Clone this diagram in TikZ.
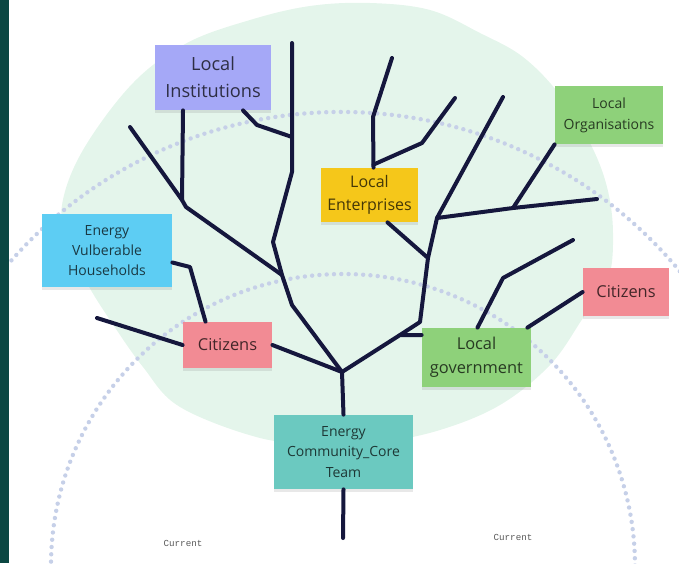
\documentclass[tikz,border=0pt]{standalone}
\usepackage{fontspec}
\setmainfont{Open Sans}
\setmonofont{Liberation Mono}
\usetikzlibrary{shadows}

\definecolor{stripgreen}{HTML}{0B4742}
\definecolor{blobgreen}{HTML}{E4F5EB}
\definecolor{dotblue}{HTML}{C6D0E8}
\definecolor{branchnavy}{HTML}{15173D}
\definecolor{instpurple}{HTML}{A5A8F7}
\definecolor{entyellow}{HTML}{F5C71A}
\definecolor{orggreen}{HTML}{8ED17A}
\definecolor{evhblue}{HTML}{5DCDF3}
\definecolor{citpink}{HTML}{F28B94}
\definecolor{coreteal}{HTML}{6BC9C0}

\tikzset{
  sticky/.style={rectangle, inner sep=0pt, align=center, text=black, text opacity=0.72,
    drop shadow={shadow xshift=0pt, shadow yshift=-1.5pt, opacity=0.18}},
  branch/.style={draw=branchnavy, line width=2pt, line join=round, line cap=round},
  ring/.style={draw=dotblue, line width=2.2pt, line cap=round, dash pattern=on 0pt off 3.65pt}
}

\begin{document}
\begin{tikzpicture}[x=0.5pt, y=-0.5pt]
  \useasboundingbox (0,0) rectangle (679,563);
  \clip (0,0) rectangle (679,563);

  % green crown
  \fill[blobgreen] plot[smooth cycle, tension=0.6] coordinates {
    (370,3) (430,10) (480,33) (523,57) (560,95) (590,143) (607,187) (613,233)
    (608,280) (583,318) (550,365) (500,405) (440,430) (380,442) (320,443)
    (260,438) (180,407) (143,367) (110,320) (88,285) (68,245) (62,205)
    (83,150) (133,83) (187,43) (250,20) (310,6)};

  % dotted rings
  \draw[ring] (341,552) ++(212:440) arc[start angle=212, end angle=328, radius=440];
  \draw[ring] (343,566) ++(178:292) arc[start angle=178, end angle=362, radius=292];

  % sticky notes
  \node[sticky, fill=instpurple, minimum width=58pt, minimum height=32.5pt,
    font=\fontsize{9.1}{13.5}\selectfont] (inst) at (213,77.5) {Local\\Institutions};
  \node[sticky, fill=entyellow, minimum width=48.5pt, minimum height=27pt,
    font=\fontsize{8}{11.5}\selectfont] (ent) at (369.5,195) {Local\\Enterprises};
  \node[sticky, fill=orggreen, minimum width=54pt, minimum height=29pt,
    font=\fontsize{7}{10.5}\selectfont] (org) at (609,115) {Local\\Organisations};
  \node[sticky, fill=evhblue, minimum width=65pt, minimum height=36.5pt,
    font=\fontsize{7}{9.8}\selectfont] (evh) at (107,250.5) {Energy\\Vulberable\\Households};
  \node[sticky, fill=citpink, minimum width=44.5pt, minimum height=23pt,
    font=\fontsize{8.2}{11}\selectfont] (citl) at (227.5,345) {Citizens};
  \node[sticky, fill=citpink, minimum width=43pt, minimum height=24pt,
    font=\fontsize{8.2}{11}\selectfont] (citr) at (626,292) {Citizens};
  \node[sticky, fill=orggreen, minimum width=54.5pt, minimum height=29.5pt,
    font=\fontsize{8.2}{12}\selectfont] (gov) at (476.5,357.5) {Local\\government};
  \node[sticky, fill=coreteal, minimum width=69.5pt, minimum height=37pt,
    font=\fontsize{7}{10.3}\selectfont] (core) at (343.5,452) {Energy\\Community\_Core\\Team};

  % joints of the tree
  \coordinate (root) at (343,538);
  \coordinate (fork) at (342,372);
  \coordinate (lk1) at (292,305);
  \coordinate (lk2) at (282,275);
  \coordinate (lk3) at (273,242);
  \coordinate (lk4) at (292,172);
  \coordinate (ltop) at (292,43);
  \coordinate (lbend) at (186,207);
  \coordinate (lmeet) at (182,200);
  \coordinate (ltip) at (130,127);
  \coordinate (ikink) at (257,125);
  \coordinate (ijoin) at (292,137);
  \coordinate (ctip) at (97,318);
  \coordinate (ekink) at (190,267);
  \coordinate (rk1) at (400,335);
  \coordinate (rk2) at (420,322);
  \coordinate (rk3) at (428,258);
  \coordinate (rk4) at (437,218);
  \coordinate (rtop) at (503,97);
  \coordinate (hmid) at (513,208);
  \coordinate (htip) at (597,199);
  \coordinate (etop) at (373,117);
  \coordinate (etip) at (392,58);
  \coordinate (ekn) at (422,143);
  \coordinate (etip2) at (455,98);
  \coordinate (gk) at (503,278);
  \coordinate (gtip) at (573,240);

  % trunk and branches
  \draw[branch] (core.south) -- (root);
  \draw[branch] (core.north) -- (fork);
  \draw[branch] (fork) -- (lk1) -- (lk2) -- (lk3) -- (lk4) -- (ltop);
  \draw[branch] (ltip) -- (lmeet) -- (lbend) -- (lk2);
  \draw[branch] ([xshift=-15pt]inst.south) -- (lmeet);
  \draw[branch] ([xshift=15pt]inst.south) -- (ikink) -- (ijoin);
  \draw[branch] (fork) -- (citl.east);
  \draw[branch] (citl.west) -- (ctip);
  \draw[branch] ([yshift=-6pt]evh.east) -- (ekink) -- ([xshift=-11pt]citl.north);
  \draw[branch] (fork) -- (rk1) -- (rk1 -| gov.west);
  \draw[branch] (rk1) -- (rk2) -- (rk3) -- (rk4) -- (rtop);
  \draw[branch] ([xshift=9pt]ent.south) -- (rk3);
  \draw[branch] (rk4) -- (hmid) -- (htip);
  \draw[branch] (hmid) -- (org.south west);
  \draw[branch] ([xshift=2pt]ent.north) -- (etop) -- (etip);
  \draw[branch] ([xshift=2pt,yshift=1.5pt]ent.north) -- (ekn) -- (etip2);
  \draw[branch] ([xshift=0.5pt]gov.north) -- (gk) -- (gtip);
  \draw[branch] ([xshift=-2pt]gov.north east) -- (citr.west);

  % ring labels
  \node[font=\ttfamily\fontsize{4.6}{5}\selectfont, text=black!65] (curl) at (183,543) {Current};
  \node[font=\ttfamily\fontsize{4.6}{5}\selectfont, text=black!65] (curr) at (513,537) {Current};

  % dark edge on the left
  \fill[stripgreen] (0,0) rectangle (9,563);
\end{tikzpicture}
\end{document}
